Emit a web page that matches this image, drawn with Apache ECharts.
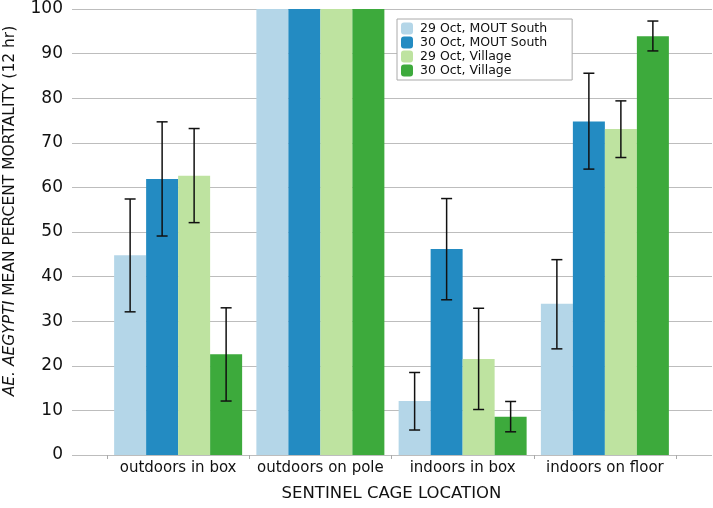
<!DOCTYPE html>
<html><head><meta charset="utf-8">
<script src="https://cdn.jsdelivr.net/npm/echarts@6/dist/echarts.min.js"></script>
<style>html,body{margin:0;padding:0;background:#fff}#c{width:713px;height:508px}</style>
</head><body><div id="c"></div>
<script>
const categories = ['outdoors in box', 'outdoors on pole', 'indoors in box', 'indoors on floor'];
const seriesNames = ['29 Oct, MOUT South', '30 Oct, MOUT South', '29 Oct, Village', '30 Oct, Village'];
const mout29 = [44.8, 100, 12.1, 33.9];
const mout30 = [61.9, 100, 46.2, 74.8];
const village29 = [62.6, 100, 21.5, 73.1];
const village30 = [22.6, 100, 8.6, 93.9];
// error bar [low, high]; null = no bar
const mout29Err = [[32.1, 57.4], null, [5.6, 18.5], [23.8, 43.8]];
const mout30Err = [[49.1, 74.7], null, [34.8, 57.5], [64.1, 85.6]];
const village29Err = [[52.1, 73.2], null, [10.2, 32.9], [66.7, 79.4]];
const village30Err = [[12.1, 33.0], null, [5.2, 12.0], [90.6, 97.3]];
const yTicks = [0, 10, 20, 30, 40, 50, 60, 70, 80, 90, 100];

const colors = ['#b4d6e8', '#238bc2', '#bee3a0', '#3daa3c'];
const values = [mout29, mout30, village29, village30];
const errs = [mout29Err, mout30Err, village29Err, village30Err];
const FONT = 'DejaVu Sans';
const BAR_W = 32;

const errData = [];
errs.forEach((arr, s) => arr.forEach((e, c) => { if (e) errData.push([c, s, e[0], e[1]]); }));

const chart = echarts.init(document.getElementById('c'), null, {renderer: 'canvas'});
chart.setOption({
  animation: false,
  textStyle: {fontFamily: FONT},
  grid: [
    {left: 72, right: 1, top: 9, bottom: 53},
    {left: 107, right: 37, top: 9, bottom: 53}
  ],
  xAxis: [
    {gridIndex: 0, type: 'value', min: 0, max: 1, show: false},
    {gridIndex: 1, type: 'category', data: categories,
     axisLine: {show: true, lineStyle: {color: '#bdbdbd', width: 1}},
     axisTick: {show: true, length: 4, inside: false, lineStyle: {color: '#aaaaaa'}},
     axisLabel: {color: '#111', fontSize: 15, fontFamily: FONT, margin: 6, interval: 0},
     name: 'SENTINEL CAGE LOCATION', nameLocation: 'middle', nameGap: 30,
     nameTextStyle: {color: '#111', fontSize: 16.5, fontFamily: FONT}}
  ],
  yAxis: [
    {gridIndex: 0, type: 'value', min: 0, max: 100, interval: 10,
     axisLine: {show: false}, axisTick: {show: false},
     axisLabel: {color: '#111', fontSize: 17, fontFamily: FONT, margin: 9,
       formatter: v => yTicks.includes(v) ? String(v) : ''},
     splitLine: {show: true, lineStyle: {color: '#bdbdbd', width: 1}}},
    {gridIndex: 1, type: 'value', min: 0, max: 100, interval: 10, show: false,
     splitLine: {show: false}}
  ],
  legend: {
    orient: 'vertical', left: 397, top: 19,
    data: seriesNames,
    itemWidth: 12, itemHeight: 12, itemGap: 1,
    padding: [3, 25, 3, 4],
    backgroundColor: '#fff', borderColor: '#aaaaaa', borderWidth: 1, borderRadius: 0,
    icon: 'roundRect',
    textStyle: {color: '#111', fontSize: 12.5, fontFamily: FONT, padding: [0, 0, 0, 2]}
  },
  graphic: [{
    type: 'text', x: 10, y: 211, rotation: Math.PI / 2,
    style: {
      text: '{i|AE. AEGYPTI} MEAN PERCENT MORTALITY (12 hr)',
      fontSize: 15.5, fontFamily: FONT, fill: '#111',
      align: 'center', verticalAlign: 'middle',
      rich: {i: {fontStyle: 'italic', fontSize: 15.5, fontFamily: FONT, fill: '#111'}}
    }
  }],
  series: values.map((v, i) => ({
    name: seriesNames[i], type: 'bar', xAxisIndex: 1, yAxisIndex: 1,
    data: v, barWidth: BAR_W, barGap: '0%',
    itemStyle: {color: colors[i]}
  })).concat([{
    type: 'custom', xAxisIndex: 1, yAxisIndex: 1, z: 10,
    data: errData,
    renderItem: function (params, api) {
      const c = api.value(0), s = api.value(1);
      const lo = api.coord([c, api.value(2)]);
      const hi = api.coord([c, api.value(3)]);
      const x = lo[0] + (s - 1.5) * BAR_W;
      const hw = 5.5;
      const st = {stroke: '#111', lineWidth: 1.5};
      return {type: 'group', children: [
        {type: 'line', shape: {x1: x, y1: lo[1], x2: x, y2: hi[1]}, style: st},
        {type: 'line', shape: {x1: x - hw, y1: lo[1], x2: x + hw, y2: lo[1]}, style: st},
        {type: 'line', shape: {x1: x - hw, y1: hi[1], x2: x + hw, y2: hi[1]}, style: st}
      ]};
    }
  }])
});
</script></body></html>
